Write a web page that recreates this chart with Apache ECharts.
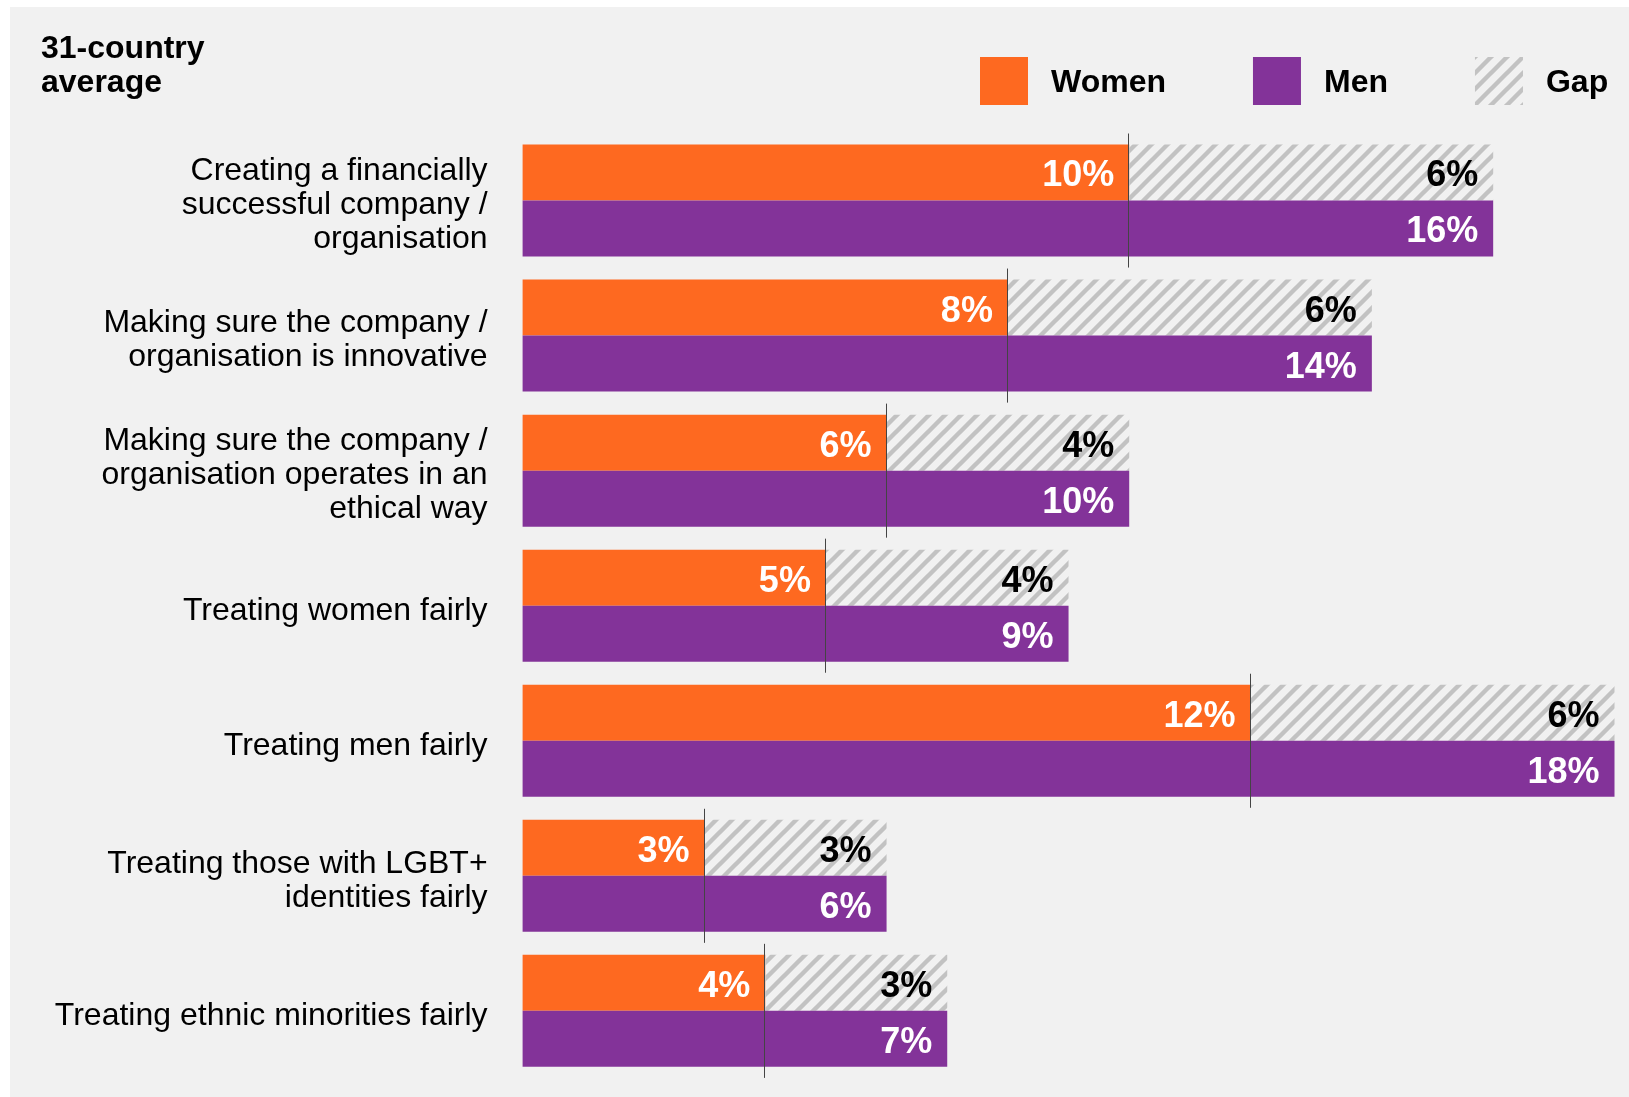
<!DOCTYPE html>
<html>
<head>
<meta charset="utf-8">
<script src="https://cdn.jsdelivr.net/npm/echarts@6/dist/echarts.min.js"></script>
<style>
html,body{margin:0;padding:0;background:#ffffff;}
#bg{position:absolute;left:10px;top:7px;right:0;bottom:0;background:#f1f1f1;}
#chart{position:absolute;left:0;top:0;width:1629px;height:1097px;}
</style>
</head>
<body>
<div id="bg"></div>
<div id="chart"></div>
<script>
var categories = [
  "Creating a financially\nsuccessful company /\norganisation",
  "Making sure the company /\norganisation is innovative",
  "Making sure the company /\norganisation operates in an\nethical way",
  "Treating women fairly",
  "Treating men fairly",
  "Treating those with LGBT+\nidentities fairly",
  "Treating ethnic minorities fairly"
];
var women = [10, 8, 6, 5, 12, 3, 4];
var gap   = [6, 6, 4, 4, 6, 3, 3];
var men   = [16, 14, 10, 9, 18, 6, 7];
var legendNames = ["Women", "Men", "Gap"];
var titleText = "31-country\naverage";

var FONT = "'Liberation Sans', Arial, sans-serif";

function makeHatch() {
  var s = 16;
  var c = document.createElement('canvas');
  c.width = s; c.height = s;
  var ctx = c.getContext('2d');
  ctx.strokeStyle = '#c2c2c2';
  ctx.lineWidth = 4.4;
  ctx.lineCap = 'square';
  ctx.beginPath();
  ctx.moveTo(-4, s + 4); ctx.lineTo(s + 4, -4);
  ctx.moveTo(-4, 4); ctx.lineTo(4, -4);
  ctx.moveTo(s - 4, s + 4); ctx.lineTo(s + 4, s - 4);
  ctx.stroke();
  return c;
}
var hatch = { image: makeHatch(), repeat: 'repeat' };

var dividerData = women.map(function (v, i) { return [v, i]; });

var chart = echarts.init(document.getElementById('chart'), null, { renderer: 'canvas' });
var valueLabel = function (color) {
  return {
    show: true, position: 'insideRight', distance: 15, offset: [0, 4],
    color: color, fontFamily: FONT, fontWeight: 'bold', fontSize: 36,
    formatter: function (p) { return p.value + '%'; }
  };
};
var catTextStyle = { fontFamily: FONT, fontSize: 32, lineHeight: 34, color: '#000', align: 'right' };
chart.setOption({
  animation: false,
  textStyle: { fontFamily: FONT },
  title: {
    text: titleText, left: 41, top: 32, padding: 0,
    textStyle: { fontFamily: FONT, fontWeight: 'bold', fontSize: 32, lineHeight: 34, color: '#000' }
  },
  legend: {
    data: legendNames, left: 980, top: 57, padding: 0,
    itemWidth: 48, itemHeight: 48, itemGap: 87, icon: 'rect',
    formatter: function (name) { return '{s|}\n{t|' + name + '}'; },
    textStyle: {
      fontFamily: FONT, fontWeight: 'bold', fontSize: 32, color: '#000', padding: [0, 0, 0, 18],
      rich: {
        s: { lineHeight: 4, fontSize: 4 },
        t: { fontFamily: FONT, fontWeight: 'bold', fontSize: 32, color: '#000' }
      }
    }
  },
  grid: { left: 522.6, right: 14.5, top: 133, bottom: 18.6, containLabel: false },
  xAxis: {
    type: 'value', min: 0, max: 18, show: false
  },
  yAxis: {
    type: 'category', data: categories, inverse: true,
    axisLine: { show: false }, axisTick: { show: false },
    axisLabel: {
      fontFamily: FONT, fontSize: 32, lineHeight: 34, color: '#000', margin: 35, align: 'right',
      formatter: function (v) {
        return '{s|}\n' + v.split('\n').map(function (line) {
          return '{n|' + line + '}';
        }).join('\n');
      },
      rich: {
        s: { lineHeight: 10, fontSize: 4 },
        n: catTextStyle
      }
    }
  },
  series: [
    {
      name: 'Women', type: 'bar', stack: 'w', data: women, barWidth: 56, barGap: '0%',
      itemStyle: { color: '#FE6920' }, label: valueLabel('#ffffff')
    },
    {
      name: 'Gap', type: 'bar', stack: 'w', data: gap, barWidth: 56, barGap: '0%',
      itemStyle: { color: hatch }, label: valueLabel('#000000')
    },
    {
      name: 'Men', type: 'bar', data: men, barWidth: 56, barGap: '0%',
      itemStyle: { color: '#833399' }, label: valueLabel('#ffffff')
    },
    {
      name: 'divider', type: 'custom', z: 5, data: dividerData,
      encode: { x: 0, y: 1 },
      renderItem: function (params, api) {
        var p = api.coord([api.value(0), api.value(1)]);
        var band = api.size([0, 1])[1];
        var half = band / 2 - 0.5;
        var x = Math.round(p[0]) - 0.5;
        return {
          type: 'line',
          shape: { x1: x, y1: p[1] - half, x2: x, y2: p[1] + half },
          style: { stroke: '#444444', lineWidth: 1 }
        };
      }
    }
  ]
});
</script>
</body>
</html>
